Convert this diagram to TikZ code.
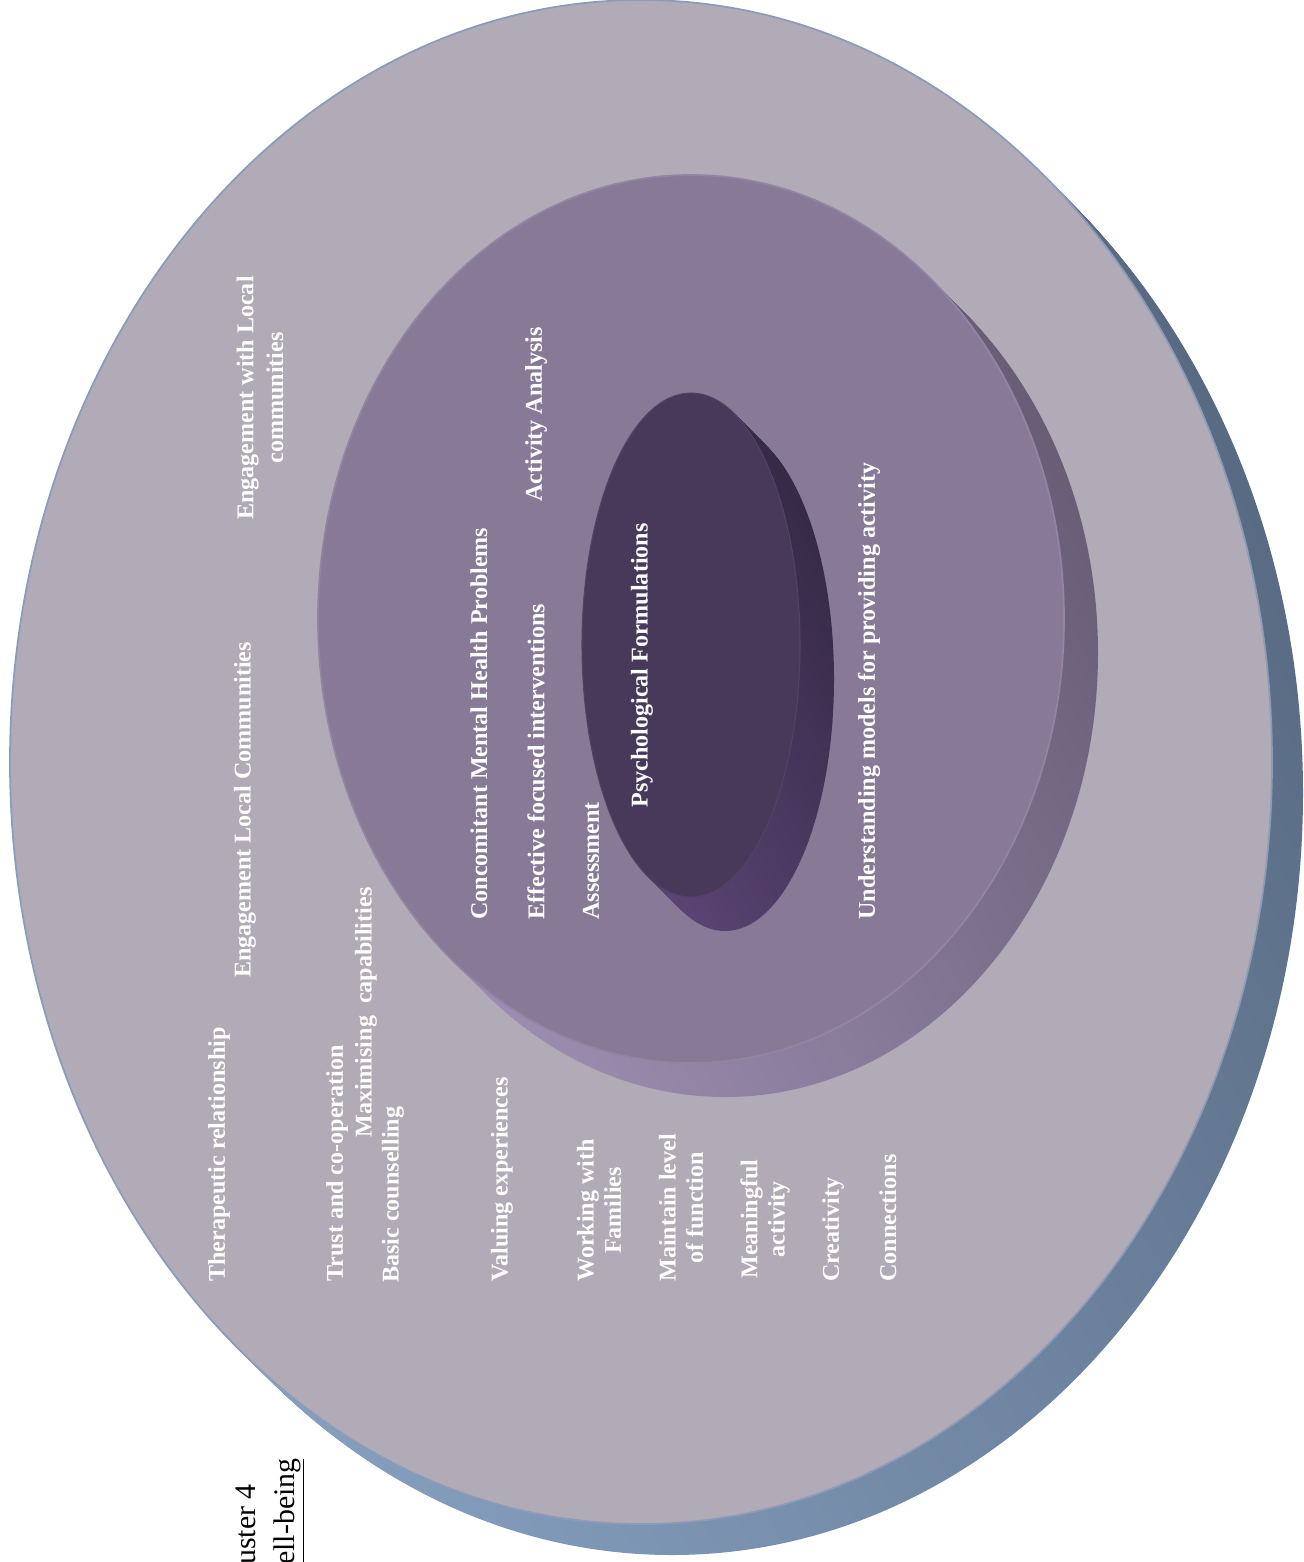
\documentclass[tikz,border=0pt]{standalone}
\usepackage{fontspec}
\setmainfont{Liberation Serif}
\usepackage{xcolor}
\usetikzlibrary{positioning}

\definecolor{outerface}{RGB}{176,171,182}
\definecolor{outeredge}{RGB}{140,156,184}
\definecolor{outerlight}{RGB}{134,160,192}
\definecolor{outerdark}{RGB}{88,106,130}
\definecolor{midface}{RGB}{136,122,150}
\definecolor{midedge}{RGB}{146,132,162}
\definecolor{midlight}{RGB}{158,142,178}
\definecolor{middark}{RGB}{104,93,117}
\definecolor{coreface}{RGB}{72,57,91}
\definecolor{coreedge}{RGB}{82,66,102}
\definecolor{corelight}{RGB}{90,68,116}
\definecolor{coredark}{RGB}{54,41,70}

\begin{document}
\begin{tikzpicture}[
    x=0.02cm, y=-0.02cm,
    band/.style 2 args={top color=#1, bottom color=#2, shading angle=-60},
    item/.style={rotate=90, anchor=west, inner sep=0pt, align=center, text=white,
        font=\bfseries\fontsize{13.7}{15.5}\selectfont},
    wide/.style={item, font=\bfseries\fontsize{13.7}{17}\selectfont},
    caption/.style={rotate=90, anchor=west, inner sep=0pt, font=\fontsize{17}{20}\selectfont}
]
    \useasboundingbox (0,0) rectangle (1303,1562);

    % Outer ring
    \foreach \s in {1,...,31}
        \shade[band={outerdark}{outerlight}] (641+\s,762+\s) ellipse (631 and 762);
    \fill[outerface, draw=outeredge, line width=1pt] (641,762) ellipse (631 and 762);

    % Middle ring
    \foreach \s in {1,...,34}
        \shade[band={middark}{midlight}] (691+\s,619+\s) ellipse (373 and 444);
    \fill[midface, draw=midedge, line width=1pt] (691,619) ellipse (373 and 444);

    % Core
    \foreach \s in {1,...,34}
        \shade[band={coredark}{corelight}] (691+\s,645+\s) ellipse (109 and 252);
    \fill[coreface, draw=coreedge, line width=0.6pt] (691,645) ellipse (109 and 252);

    % Outer ring labels
    \node[item] (therapy) at (219,1282) {Therapeutic relationship};
    \node[item] (englocal) at (245,978) {Engagement Local Communities};
    \node[wide] (engwith) at (260,520) {Engagement with Local\\communities};
    \node[item] (trust) at (337,1282) {Trust and co-operation};
    \node[item] (maxcap) at (366,1138) {Maximising\ \ capabilities};
    \node[item] (counsel) at (393,1283) {Basic counselling};
    \node[item] (valuing) at (502,1282) {Valuing experiences};
    \node[item] (families) at (599,1282) {Working with\\Families};
    \node[item] (function) at (681,1282) {Maintain level\\of function};
    \node[item] (meaning) at (765,1279) {Meaningful\\activity};
    \node[item] (creative) at (833,1282) {Creativity};
    \node[item] (connect) at (888,1282) {Connections};

    % Middle ring labels
    \node[item] (comorbid) at (479,920) {Concomitant Mental Health Problems};
    \node[item] (effective) at (536,920) {Effective focused interventions};
    \node[item] (activity) at (536,502) {Activity Analysis};
    \node[item] (assess) at (591,920) {Assessment};
    \node[item] (models) at (869,920) {Understanding models for providing activity};

    % Core label
    \node[item] (formul) at (642,808) {Psychological Formulations};

    % Title (cut by the page edge)
    \node[caption] (cluster) at (246,1565) {uster 4};
    \node[caption] (wellbeing) at (289,1565) {\underline{ell-being}};
\end{tikzpicture}
\end{document}
